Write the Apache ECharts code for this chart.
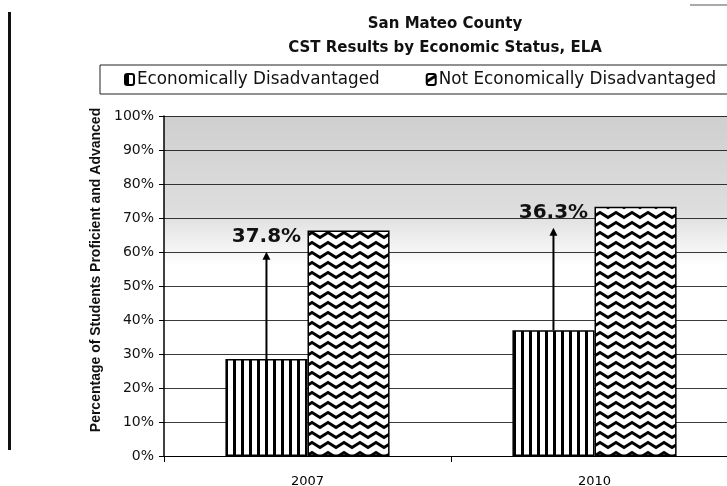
<!DOCTYPE html>
<html>
<head>
<meta charset="utf-8">
<script src="https://cdn.jsdelivr.net/npm/echarts@6/dist/echarts.min.js"></script>
<style>
  html, body { margin: 0; padding: 0; background: #fff; }
  #chart { width: 727px; height: 486px; }
</style>
</head>
<body>
<div id="chart"></div>
<script>
const years = ['2007', '2010'];
const seriesNames = ['Economically Disadvantaged', 'Not Economically Disadvantaged'];
const disadvantaged = [28.5, 37.0];
const notDisadvantaged = [66.3, 73.3];
const yTicks = [0, 10, 20, 30, 40, 50, 60, 70, 80, 90, 100];

// fill patterns, like the printed chart
function stripes() {
  const c = document.createElement('canvas');
  c.width = 8; c.height = 8;
  const g = c.getContext('2d');
  g.fillStyle = '#fff'; g.fillRect(0, 0, 8, 8);
  g.fillStyle = '#000'; g.fillRect(1, 0, 3, 8);
  return c;
}
function zigzag() {
  const c = document.createElement('canvas');
  c.width = 16; c.height = 10;
  const g = c.getContext('2d');
  g.fillStyle = '#fff'; g.fillRect(0, 0, 16, 10);
  g.strokeStyle = '#000'; g.lineWidth = 2.8;
  g.beginPath();
  g.moveTo(-4, 3); g.lineTo(0, 7.5); g.lineTo(8, 2.5); g.lineTo(16, 7.5); g.lineTo(20, 3);
  g.stroke();
  return c;
}

const chart = echarts.init(document.getElementById('chart'));
const barBorder = { borderColor: '#000', borderWidth: 1.5 };

let option = {
  animation: false,
  title: {
    text: 'San Mateo County\nCST Results by Economic Status, ELA',
    left: 440,
    top: 7,
    textAlign: 'center',
    textStyle: {
      fontFamily: 'DejaVu Sans', fontWeight: 'bold', fontSize: 15,
      color: '#111', lineHeight: 24
    }
  },
  legend: {
    left: 100,
    top: 65,
    width: 660,
    padding: [6, 30, 6, 24],
    borderColor: '#222',
    borderWidth: 1,
    itemWidth: 9,
    itemHeight: 11,
    itemGap: 46,
    textStyle: { fontFamily: 'DejaVu Sans', fontSize: 16.8, color: '#111', padding: [0, 0, 0, -2] },
    data: seriesNames
  },
  graphic: [
    { type: 'rect', left: 8, top: 12, shape: { width: 3, height: 438 }, style: { fill: '#111' } },
    { type: 'rect', left: 690, top: 4, shape: { width: 37, height: 2 }, style: { fill: '#aaa' } }
  ],
  grid: { left: 164, width: 574, top: 116, bottom: 30, outerBoundsMode: 'none', containLabel: false },
  xAxis: {
    type: 'category',
    data: years,
    axisLine: { lineStyle: { color: '#000', width: 1 } },
    axisTick: { show: true, length: 6, lineStyle: { color: '#000' } },
    axisLabel: { fontFamily: 'DejaVu Sans', fontSize: 13, color: '#000', margin: 19 }
  },
  yAxis: {
    type: 'value',
    min: yTicks[0],
    max: yTicks[yTicks.length - 1],
    interval: 10,
    name: 'Percentage of Students Proficient and Advanced',
    nameLocation: 'middle',
    nameGap: 60,
    nameTextStyle: { fontFamily: 'Liberation Sans', fontWeight: 'bold', fontSize: 14, color: '#111', padding: [0, 0, 0, 32] },
    axisLine: { show: true, lineStyle: { color: '#000', width: 1.5 } },
    axisTick: { show: true, length: 5, lineStyle: { color: '#000' } },
    axisLabel: { formatter: '{value}%', fontFamily: 'DejaVu Sans', fontSize: 14, color: '#111', margin: 10 },
    splitLine: { lineStyle: { color: '#3a3a3a', width: 1 } }
  },
  series: [
    {
      name: seriesNames[0],
      type: 'bar',
      data: disadvantaged,
      barWidth: '28.6%',
      barGap: '0%',
      barCategoryGap: '42.8%',
      itemStyle: Object.assign({ color: { image: stripes(), repeat: 'repeat' } }, barBorder),
      markArea: {
        silent: true,
        itemStyle: {
          color: {
            type: 'linear', x: 0, y: 0, x2: 0, y2: 1,
            colorStops: [
              { offset: 0, color: 'rgba(0,0,0,0.19)' },
              { offset: 0.65, color: 'rgba(0,0,0,0.13)' },
              { offset: 1, color: 'rgba(0,0,0,0)' }
            ]
          }
        },
        data: [[{ yAxis: 100 }, { yAxis: 56 }]]
      }
    },
    {
      name: seriesNames[1],
      type: 'bar',
      data: notDisadvantaged,
      barWidth: '28.6%',
      itemStyle: Object.assign({ color: { image: zigzag(), repeat: 'repeat' } }, barBorder)
    },
    {
      // gap arrows and labels
      type: 'custom',
      z: 10,
      silent: true,
      data: years.map((y, i) => [i, disadvantaged[i], notDisadvantaged[i]]),
      renderItem: function (params, api) {
        const band = api.size([1, 0])[0];
        const x = api.coord([api.value(0), 0])[0] - band * 0.143;
        const yBase = api.coord([0, api.value(1)])[1];
        const yTip = api.coord([0, api.value(2) - 6.2])[1];
        const yText = api.coord([0, api.value(2) - 1.8])[1];
        const gap = (api.value(2) - api.value(1)).toFixed(1) + '%';
        return {
          type: 'group',
          children: [
            { type: 'line', shape: { x1: x, y1: yBase, x2: x, y2: yTip + 6 }, style: { stroke: '#000', lineWidth: 2 } },
            { type: 'polygon', shape: { points: [[x - 4, yTip + 8], [x, yTip], [x + 4, yTip + 8]] }, style: { fill: '#000' } },
            { type: 'text', x: x, y: yText, style: { text: gap, fontFamily: 'DejaVu Sans', fontWeight: 'bold', fontSize: 20, fill: '#111', align: 'center', verticalAlign: 'middle' } }
          ]
        };
      }
    }
  ]
};
chart.setOption(option);
</script>
</body>
</html>
